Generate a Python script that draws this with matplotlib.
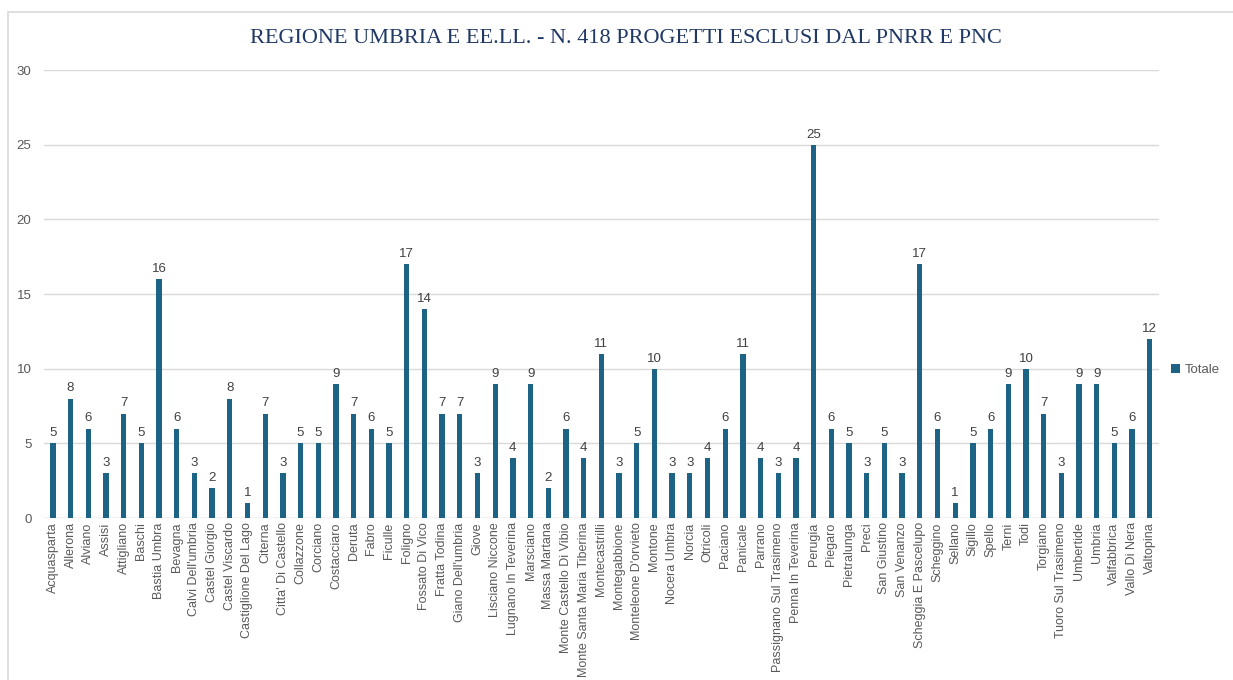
import matplotlib.pyplot as plt
from matplotlib.patches import Rectangle

comuni = ["Acquasparta", "Allerona", "Alviano", "Assisi", "Attigliano", "Baschi",
          "Bastia Umbra", "Bevagna", "Calvi Dell'umbria", "Castel Giorgio",
          "Castel Viscardo", "Castiglione Del Lago", "Citerna", "Citta' Di Castello",
          "Collazzone", "Corciano", "Costacciaro", "Deruta", "Fabro", "Ficulle",
          "Foligno", "Fossato Di Vico", "Fratta Todina", "Giano Dell'umbria", "Giove",
          "Lisciano Niccone", "Lugnano In Teverina", "Marsciano", "Massa Martana",
          "Monte Castello Di Vibio", "Monte Santa Maria Tiberina", "Montecastrilli",
          "Montegabbione", "Monteleone D'orvieto", "Montone", "Nocera Umbra", "Norcia",
          "Otricoli", "Paciano", "Panicale", "Parrano", "Passignano Sul Trasimeno",
          "Penna In Teverina", "Perugia", "Piegaro", "Pietralunga", "Preci",
          "San Giustino", "San Venanzo", "Scheggia E Pascelupo", "Scheggino", "Sellano",
          "Sigillo", "Spello", "Terni", "Todi", "Torgiano", "Tuoro Sul Trasimeno",
          "Umbertide", "Umbria", "Valfabbrica", "Vallo Di Nera", "Valtopina"]
totale = [5, 8, 6, 3, 7, 5, 16, 6, 3, 2,
          8, 1, 7, 3, 5, 5, 9, 7, 6, 5,
          17, 14, 7, 7, 3, 9, 4, 9, 2, 6,
          4, 11, 3, 5, 10, 3, 3, 4, 6, 11,
          4, 3, 4, 25, 6, 5, 3, 5, 3, 17,
          6, 1, 5, 6, 9, 10, 7, 3, 9, 9,
          5, 6, 12]

colore = '#1d6386'
plt.rcParams['font.family'] = ['Liberation Sans', 'DejaVu Sans']

fig = plt.figure(figsize=(12.33, 6.8), dpi=100)
ax = fig.add_axes([0.0357, 0.238, 0.904, 0.659])

# cornice del grafico
fig.patches.append(Rectangle((8 / 1233, -0.1), 1.2, 1 - 12 / 680 + 0.1,
                             transform=fig.transFigure, fill=False,
                             edgecolor='#d9d9d9', linewidth=1.2))

x = range(len(comuni))
barre = ax.bar(x, totale, width=0.3, color=colore, label='Totale', zorder=3)
ax.bar_label(barre, padding=3, fontsize=9.5, color='#404040')

ax.set_xlim(-0.5, len(comuni) - 0.5)
ax.set_ylim(0, 30)
ax.set_yticks(range(0, 31, 5))
ax.set_xticks(list(x))
ax.set_xticklabels(comuni, rotation=90, fontsize=9, color='#595959')
ax.tick_params(axis='y', labelsize=9.5, labelcolor='#595959', length=0, pad=9)
ax.tick_params(axis='x', length=0, pad=3)
ax.grid(axis='y', color='#d9d9d9', linewidth=1, zorder=0)
for s in ax.spines.values():
    s.set_visible(False)
ax.axhline(0, color='#d9d9d9', linewidth=1, zorder=2)

fig.text(0.508, 0.943, "REGIONE UMBRIA E EE.LL. - N. 418 PROGETTI ESCLUSI DAL PNRR E PNC",
         ha='center', va='center', fontsize=16, color='#1f3864',
         family='Liberation Serif')

ax.legend(loc='center left', bbox_to_anchor=(1.0, 0.33), frameon=False,
          fontsize=9.5, handlelength=0.7, handleheight=0.7, handletextpad=0.4,
          labelcolor='#595959')

fig.savefig('out.png', dpi=100)
